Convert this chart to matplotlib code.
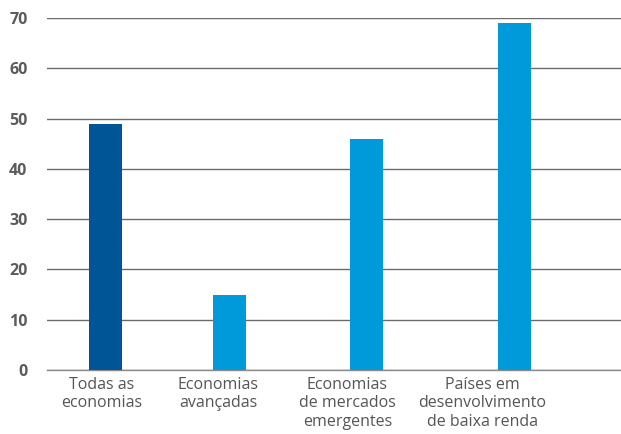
import matplotlib
matplotlib.use('Agg')
import matplotlib.pyplot as plt

categories = ['Todas as\neconomias', 'Economias\navançadas',
              'Economias\nde mercados\nemergentes', 'Países em\ndesenvolvimento\nde baixa renda']
values = [49, 15, 46, 69]
colors = ['#005596', '#009ADB', '#009ADB', '#009ADB']
yticks = [0, 10, 20, 30, 40, 50, 60, 70]

# bar and label placement along the x axis
bar_pos = [0, 1, 2.105, 3.298]
label_pos = [-0.03, 0.91, 1.95, 3.04]

plt.rcParams['font.family'] = ['Open Sans', 'DejaVu Sans']

fig = plt.figure(figsize=(6.21, 4.34), dpi=100)
ax = fig.add_axes([47/621, 64/434, 574/621, 352/434])

ax.bar(bar_pos, values, width=0.266, color=colors, zorder=3)

ax.set_xlim(-0.472, 4.157)
ax.set_ylim(0, 70)
ax.set_yticks(yticks)
ax.set_yticklabels([str(t) for t in yticks], fontweight='bold', color='#5b5b5b', fontsize=11.5)
ax.yaxis.grid(True, color='#6b6b6b', linewidth=1, zorder=0)
ax.tick_params(axis='y', length=0, pad=14)

ax.set_xticks(label_pos)
ax.set_xticklabels(categories, color='#555555', fontsize=11.5, linespacing=1.2)
ax.tick_params(axis='x', length=0, pad=5)

for s in ['top', 'right', 'left']:
    ax.spines[s].set_visible(False)
ax.spines['bottom'].set_color('#8a8a8a')
ax.spines['bottom'].set_linewidth(1)

fig.savefig('out.png', dpi=100)
